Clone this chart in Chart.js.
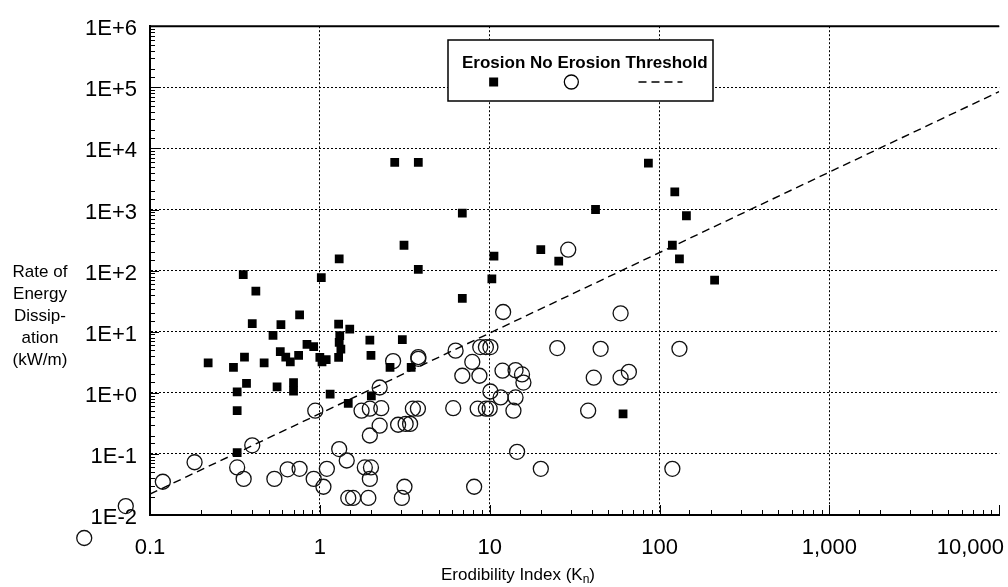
<!DOCTYPE html>
<html>
<head>
<meta charset="utf-8">
<title>Erodibility Index vs Rate of Energy Dissipation</title>
<script src="https://cdn.jsdelivr.net/npm/chart.js@4.4.1/dist/chart.umd.min.js"></script>
<style>
  html, body { margin: 0; padding: 0; background: #fff; overflow: hidden; }
  #wrap { position: relative; width: 1008px; height: 587px; }
</style>
</head>
<body>
<div id="wrap"><canvas id="chart" width="1008" height="587"></canvas></div>
<script>
// Erosion observations (filled squares): erodibility index K and power P (kW/m)
const erosionK = [2.76, 3.8, 86, 123, 42, 6.9, 144, 3.13, 119, 20, 10.6, 1.3, 25.5, 131, 3.8,
  0.354, 1.02, 10.3, 211, 0.42, 6.9, 0.76, 0.40, 0.59, 1.29, 1.5, 0.53, 1.31, 1.97, 3.06,
  1.30, 0.84, 0.92, 1.33, 0.585, 0.75, 2.0, 0.36, 0.63, 1.0, 1.29, 1.09, 1.03, 0.67, 0.22,
  0.47, 0.31, 2.59, 3.45, 0.70, 0.37, 0.56, 0.70, 0.326, 1.15, 2.01, 1.47, 0.326, 61, 0.326];
const erosionP = [5900, 5900, 5750, 1950, 1000, 870, 790, 260, 260, 220, 172, 156, 143, 156, 105,
  86, 77, 73, 70, 46, 35, 18.8, 13.6, 13.1, 13.3, 11, 8.7, 8.6, 7.3, 7.4,
  6.7, 6.2, 5.7, 5.2, 4.7, 4.1, 4.1, 3.85, 3.85, 3.8, 3.8, 3.5, 3.2, 3.2, 3.1,
  3.1, 2.6, 2.6, 2.6, 1.47, 1.43, 1.25, 1.07, 1.04, 0.95, 0.89, 0.67, 0.51, 0.45, 0.105];

// No erosion observations (open circles)
const noErosionK = [0.119, 0.183, 0.326, 0.356, 0.40, 0.54, 0.646, 0.76, 0.94, 0.92, 1.05, 1.1,
  1.3, 1.44, 1.84, 2.0, 1.97, 1.47, 1.57, 1.93, 3.04, 3.15, 8.1, 14.5, 20, 119,
  2.25, 1.76, 1.97, 2.3, 2.25, 1.97, 2.89, 3.2, 3.4, 3.53, 3.78, 6.1, 8.5, 9.5, 10, 13.8, 38,
  10.1, 11.6, 14.2, 6.9, 8.7, 11.9, 14.2, 15.5, 15.8, 7.9, 41, 59, 66,
  2.7, 3.8, 3.8, 6.3, 8.8, 9.5, 10.1, 25, 45, 131,
  12, 59, 29, 0.072, 0.041];
const noErosionP = [0.035, 0.073, 0.060, 0.039, 0.138, 0.039, 0.056, 0.057, 0.51, 0.039, 0.029, 0.057,
  0.12, 0.078, 0.060, 0.060, 0.039, 0.019, 0.019, 0.019, 0.019, 0.029, 0.029, 0.108, 0.057, 0.057,
  1.22, 0.51, 0.55, 0.56, 0.29, 0.20, 0.30, 0.31, 0.31, 0.55, 0.55, 0.56, 0.55, 0.55, 0.55, 0.51, 0.51,
  1.05, 0.84, 0.84, 1.9, 1.9, 2.3, 2.35, 2.0, 1.47, 3.2, 1.77, 1.77, 2.2,
  3.3, 3.85, 3.6, 4.9, 5.6, 5.6, 5.6, 5.4, 5.25, 5.25,
  21, 20, 220, 0.014, 0.0042];

// Erosion threshold line end points
const thresholdK = [0.1, 10000];
const thresholdP = [0.022, 85000];

const xTickValues = [0.1, 1, 10, 100, 1000, 10000];
const xTickLabels = ["0.1", "1", "10", "100", "1,000", "10,000"];
const yTickValues = [0.01, 0.1, 1, 10, 100, 1000, 10000, 100000, 1000000];
const yTickLabels = ["1E-2", "1E-1", "1E+0", "1E+1", "1E+2", "1E+3", "1E+4", "1E+5", "1E+6"];

const legendLabels = ["Erosion", "No Erosion", "Threshold"];
const yTitleLines = ["Rate of", "Energy", "Dissip-", "ation", "(kW/m)"];

const FONT = "Arial, 'Liberation Sans', Helvetica, sans-serif";

function isDecade(v) {
  const l = Math.log10(v);
  return Math.abs(l - Math.round(l)) < 1e-6;
}

function labelFor(values, labels, v) {
  const i = values.findIndex(t => Math.abs(t - v) / t < 1e-6);
  return i >= 0 ? labels[i] : "";
}

function line(ctx, x1, y1, x2, y2) {
  ctx.beginPath();
  ctx.moveTo(x1, y1);
  ctx.lineTo(x2, y2);
  ctx.stroke();
}

// the point element skips anything outside the chart area; the scan has two
// circles sitting left of / below the axes, so draw those elements here
const outsidePoints = {
  id: "outsidePoints",
  afterDatasetsDraw(chart) {
    const a = chart.chartArea;
    chart.data.datasets.forEach((ds, i) => {
      if (ds.clip !== false) return;
      chart.getDatasetMeta(i).data.forEach(p => {
        if (p.x < a.left || p.x > a.right || p.y < a.top || p.y > a.bottom) p.draw(chart.ctx);
      });
    });
  }
};

// tick marks inside the frame, top border, axis labels and the boxed legend
const decorations = {
  id: "decorations",
  afterDraw(chart) {
    const { ctx, chartArea: a, scales: { x, y } } = chart;
    ctx.save();
    ctx.strokeStyle = "#000";
    ctx.fillStyle = "#000";

    // inward minor/major ticks
    ctx.lineWidth = 1;
    y.ticks.forEach(t => {
      const py = Math.round(y.getPixelForValue(t.value)) + 0.5;
      line(ctx, a.left, py, a.left + (isDecade(t.value) ? 9 : 5), py);
    });
    x.ticks.forEach(t => {
      const px = Math.round(x.getPixelForValue(t.value)) + 0.5;
      line(ctx, px, a.bottom, px, a.bottom - (isDecade(t.value) ? 10 : 5));
    });

    // top frame line
    ctx.lineWidth = 2;
    line(ctx, a.left - 1, a.top, a.right, a.top);

    // x tick labels
    ctx.font = "22px " + FONT;
    ctx.textBaseline = "top";
    xTickValues.forEach((v, i) => {
      const px = x.getPixelForValue(v);
      const w = ctx.measureText(xTickLabels[i]).width;
      if (px + w / 2 > chart.width - 4) {
        ctx.textAlign = "right";
        ctx.fillText(xTickLabels[i], chart.width - 4, a.bottom + 22);
      } else {
        ctx.textAlign = "center";
        ctx.fillText(xTickLabels[i], px, a.bottom + 22);
      }
    });

    // x title with subscript
    ctx.textBaseline = "middle";
    ctx.textAlign = "left";
    const t1 = "Erodibility Index (K", t2 = "n", t3 = ")";
    ctx.font = "17px " + FONT;
    const w1 = ctx.measureText(t1).width, w3 = ctx.measureText(t3).width;
    ctx.font = "12px " + FONT;
    const w2 = ctx.measureText(t2).width;
    const tx = 518 - (w1 + w2 + w3) / 2;
    const ty = 575;
    ctx.font = "17px " + FONT;
    ctx.fillText(t1, tx, ty);
    ctx.font = "12px " + FONT;
    ctx.fillText(t2, tx + w1, ty + 5);
    ctx.font = "17px " + FONT;
    ctx.fillText(t3, tx + w1 + w2, ty);

    // y title (horizontal, stacked)
    ctx.textAlign = "center";
    yTitleLines.forEach((s, i) => ctx.fillText(s, 40, 272 + i * 22));

    // legend box
    const bx = 448, by = 40, bw = 265, bh = 61;
    ctx.fillStyle = "#fff";
    ctx.fillRect(bx, by, bw, bh);
    ctx.lineWidth = 1.5;
    ctx.strokeRect(bx, by, bw, bh);
    ctx.fillStyle = "#000";
    ctx.font = "bold 17px " + FONT;
    ctx.textAlign = "left";
    ctx.textBaseline = "alphabetic";
    const space = ctx.measureText(" ").width;
    let lx = 462;
    const centers = legendLabels.map(s => {
      const w = ctx.measureText(s).width;
      ctx.fillText(s, lx, 68);
      const c = lx + w / 2;
      lx += w + space;
      return c;
    });
    const sy = 82;
    ctx.fillRect(centers[0] - 4.5, sy - 4.5, 9, 9);
    ctx.lineWidth = 1.3;
    ctx.beginPath();
    ctx.arc(centers[1] - 4, sy, 7, 0, Math.PI * 2);
    ctx.stroke();
    ctx.lineWidth = 1.4;
    ctx.setLineDash([8, 5]);
    line(ctx, centers[2] - 28, sy, centers[2] + 16, sy);
    ctx.restore();
  }
};

new Chart(document.getElementById("chart"), {
  type: "scatter",
  data: {
    datasets: [
      {
        label: "Threshold",
        data: thresholdK.map((k, i) => ({ x: k, y: thresholdP[i] })),
        showLine: true,
        borderColor: "#000",
        borderWidth: 1.4,
        borderDash: [8, 5],
        pointRadius: 0,
        fill: false
      },
      {
        label: "Erosion",
        data: erosionK.map((k, i) => ({ x: k, y: erosionP[i] })),
        pointStyle: "rect",
        pointRadius: 6.2,
        pointHoverRadius: 6.2,
        backgroundColor: "#000",
        borderWidth: 0
      },
      {
        label: "No Erosion",
        data: noErosionK.map((k, i) => ({ x: k, y: noErosionP[i] })),
        pointStyle: "circle",
        pointRadius: 7.5,
        pointHoverRadius: 7.5,
        backgroundColor: "rgba(0,0,0,0)",
        borderColor: "#111",
        borderWidth: 1.3,
        clip: false
      }
    ]
  },
  options: {
    responsive: false,
    animation: false,
    devicePixelRatio: 1,
    layout: { padding: { top: 20, right: 1, left: 0, bottom: 0 } },
    plugins: { legend: { display: false }, tooltip: { enabled: false } },
    scales: {
      x: {
        type: "logarithmic",
        min: 0.1,
        max: 10000,
        afterFit: s => { s.height = 72; },
        grid: {
          drawTicks: false,
          lineWidth: 1,
          color: c => c.tick && isDecade(c.tick.value) && c.tick.value < 5000 ? "#000" : "rgba(0,0,0,0)"
        },
        border: { display: true, color: "#000", width: 2, dash: [2, 2] },
        ticks: { display: false, autoSkip: false }
      },
      y: {
        type: "logarithmic",
        min: 0.01,
        max: 1000000,
        afterFit: s => { s.width = 150; },
        grid: {
          drawTicks: false,
          lineWidth: 1,
          color: c => c.tick && isDecade(c.tick.value) ? "#000" : "rgba(0,0,0,0)"
        },
        border: { display: true, color: "#000", width: 2, dash: [2, 2] },
        ticks: {
          autoSkip: false,
          padding: 13,
          labelOffset: 3,
          color: "#000",
          font: { family: FONT, size: 22 },
          callback: v => labelFor(yTickValues, yTickLabels, v)
        }
      }
    }
  },
  plugins: [outsidePoints, decorations]
});
</script>
</body>
</html>
